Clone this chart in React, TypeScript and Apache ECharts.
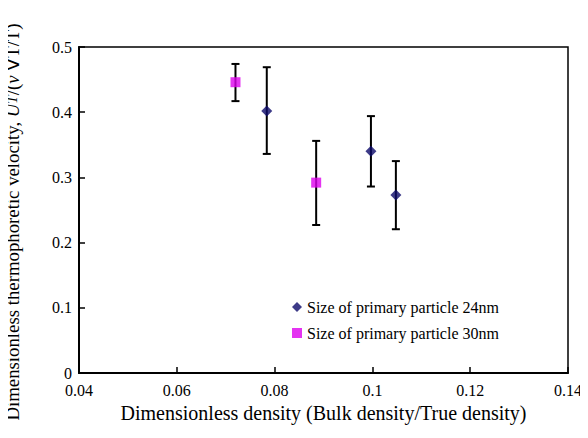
import React, { useEffect, useRef } from "react";
import * as echarts from "echarts";

const xs24 = [0.0784, 0.0997, 0.1048];
const y24 = [0.402, 0.34, 0.273];
const low24 = [0.336, 0.286, 0.2205];
const high24 = [0.469, 0.394, 0.325];

const xs30 = [0.072, 0.0885];
const y30 = [0.446, 0.292];
const low30 = [0.417, 0.227];
const high30 = [0.474, 0.356];

const seriesNames = ["Size of primary particle 24nm", "Size of primary particle 30nm"];
const xTitle = "Dimensionless density (Bulk density/True density)";
const yTitleParts = ["Dimensionless thermophoretic velocity, ", "U", "T", "/(", "ν", " ∇T/T)"];

const FONT = "Liberation Serif";

export default function App() {
  const ref = useRef<HTMLDivElement>(null);
  useEffect(() => {
    if (!ref.current) return;
    const chart = echarts.init(ref.current, null, { renderer: "svg" });
    const errData = [
      ...xs24.map((x, i) => [x, low24[i], high24[i]]),
      ...xs30.map((x, i) => [x, low30[i], high30[i]]),
    ];
    const rich16 = { t: { fontFamily: FONT, fontSize: 16, color: "#000" } };
    const tickFmt = (v: number) => `{t|${parseFloat(v.toFixed(4))}}`;
    const p = yTitleParts;
    const yTitle = `{a|${p[0]}}{i|${p[1]}}{s|${p[2]}}{a|${p[3]}}{i|${p[4]}}{a|${p[5]}}`;
    chart.setOption({
      animation: false,
      backgroundColor: "#ffffff",
      textStyle: { fontFamily: FONT, color: "#000" },
      grid: {
        left: 79,
        right: 20,
        top: 47,
        bottom: 65,
        containLabel: false,
        outerBoundsMode: "none",
        show: true,
        borderColor: "#000",
        borderWidth: 1.5,
        backgroundColor: "transparent",
      },
      graphic: [
        {
          type: "text",
          x: 12,
          y: 222,
          rotation: Math.PI / 2,
          style: {
            text: yTitle,
            align: "center",
            verticalAlign: "middle",
            fill: "#000",
            fontFamily: FONT,
            fontSize: 18.8,
            rich: {
              a: { fontFamily: FONT, fontSize: 18.8, fill: "#000" },
              i: { fontFamily: FONT, fontSize: 18.8, fontStyle: "italic", fill: "#000" },
              s: { fontFamily: FONT, fontSize: 15, fontStyle: "italic", fill: "#000" },
            },
          },
        },
      ],
      legend: {
        orient: "vertical",
        left: 287,
        top: 294,
        itemWidth: 10,
        itemHeight: 10,
        itemGap: 10,
        data: [
          { name: seriesNames[0], icon: "diamond" },
          { name: seriesNames[1], icon: "rect" },
        ],
        formatter: (name: string) => `{t|${name}}`,
        textStyle: { fontFamily: FONT, fontSize: 16, color: "#000", rich: rich16 },
      },
      xAxis: {
        type: "value",
        min: 0.04,
        max: 0.14,
        interval: 0.02,
        name: xTitle,
        nameLocation: "middle",
        nameGap: 29,
        nameTextStyle: { fontFamily: FONT, fontSize: 20, color: "#000" },
        axisLine: { show: true, lineStyle: { color: "#000", width: 2 } },
        axisTick: { show: true, inside: true, length: 6, lineStyle: { color: "#000", width: 1.5 } },
        axisLabel: {
          fontFamily: FONT,
          fontSize: 16,
          color: "#000",
          margin: 9,
          rich: rich16,
          formatter: tickFmt,
        },
        splitLine: { show: false },
      },
      yAxis: {
        type: "value",
        min: 0,
        max: 0.5,
        interval: 0.1,
        axisLine: { show: true, lineStyle: { color: "#000", width: 2 } },
        axisTick: { show: true, inside: true, length: 6, lineStyle: { color: "#000", width: 1.5 } },
        axisLabel: {
          fontFamily: FONT,
          fontSize: 16,
          color: "#000",
          margin: 7,
          rich: rich16,
          formatter: tickFmt,
        },
        splitLine: { show: false },
      },
      series: [
        {
          type: "custom",
          name: "err",
          z: 1,
          data: errData,
          renderItem: (params: any, api: any) => {
            const x = api.value(0);
            const lo = api.coord([x, api.value(1)]);
            const hi = api.coord([x, api.value(2)]);
            const hw = 4;
            const st = { stroke: "#000", lineWidth: 2 };
            return {
              type: "group",
              children: [
                { type: "line", shape: { x1: lo[0], y1: lo[1], x2: hi[0], y2: hi[1] }, style: st },
                { type: "line", shape: { x1: lo[0] - hw, y1: lo[1], x2: lo[0] + hw, y2: lo[1] }, style: st },
                { type: "line", shape: { x1: hi[0] - hw, y1: hi[1], x2: hi[0] + hw, y2: hi[1] }, style: st },
              ],
            };
          },
        },
        {
          type: "scatter",
          name: seriesNames[0],
          symbol: "diamond",
          symbolSize: 11,
          z: 3,
          itemStyle: { color: "#0c0a6a" },
          data: xs24.map((x, i) => [x, y24[i]]),
        },
        {
          type: "scatter",
          name: seriesNames[1],
          symbol: "rect",
          symbolSize: 10,
          z: 3,
          itemStyle: { color: "#dd00ee" },
          data: xs30.map((x, i) => [x, y30[i]]),
        },
      ],
    });
    return () => chart.dispose();
  }, []);
  return <div ref={ref} style={{ width: 588, height: 438, margin: -8 }} />;
}
